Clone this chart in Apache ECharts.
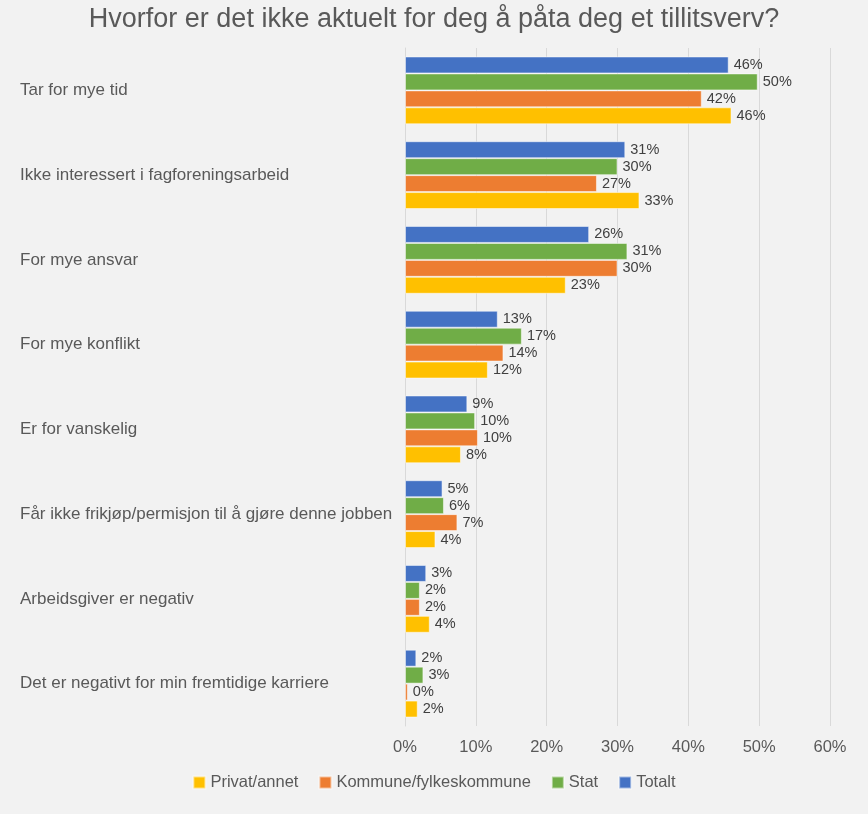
<!DOCTYPE html>
<html>
<head>
<meta charset="utf-8">
<title>Tillitsverv</title>
<script src="https://cdn.jsdelivr.net/npm/echarts@6/dist/echarts.min.js"></script>
<style>
  html, body { margin: 0; padding: 0; background: #f2f2f2; }
  #chart { width: 868px; height: 814px; }
</style>
</head>
<body>
<div id="chart"></div>
<script>
// kategorier, fra topp til bunn
var categories = [
  "Tar for mye tid",
  "Ikke interessert i fagforeningsarbeid",
  "For mye ansvar",
  "For mye konflikt",
  "Er for vanskelig",
  "Får ikke frikjøp/permisjon til å gjøre denne jobben",
  "Arbeidsgiver er negativ",
  "Det er negativt for min fremtidige karriere"
];

// verdier i prosent (lest av bildet)
var totalt  = [45.7, 31.1, 26.0, 13.1, 8.8, 5.3, 3.0, 1.6];
var stat    = [49.8, 30.0, 31.4, 16.5, 9.9, 5.5, 2.1, 2.6];
var kommune = [41.9, 27.1, 30.0, 13.9, 10.3, 7.4, 2.1, 0.4];
var privat  = [46.1, 33.1, 22.7, 11.7, 7.9, 4.3, 3.5, 1.8];

var legendOrder = ["Privat/annet", "Kommune/fylkeskommune", "Stat", "Totalt"];

var chart = echarts.init(document.getElementById("chart"));

function barSeries(name, data, color) {
  return {
    name: name,
    type: "bar",
    data: data,
    barGap: "0%",
    barCategoryGap: "20%",
    itemStyle: {
      color: color,
      borderColor: "rgba(255,255,255,0.5)",
      borderWidth: 1
    },
    label: {
      show: true,
      position: "right",
      distance: 5,
      color: "#404040",
      fontSize: 14.5,
      formatter: function (p) { return Math.round(p.value) + "%"; }
    }
  };
}

var option = {
  backgroundColor: "#f2f2f2",
  animation: false,
  textStyle: { fontFamily: "Liberation Sans, Arial, sans-serif" },
  title: {
    text: "Hvorfor er det ikke aktuelt for deg å påta deg et tillitsverv?",
    left: "center",
    top: 1,
    textStyle: {
      color: "#595959",
      fontSize: 27,
      fontWeight: "normal",
      fontFamily: "Liberation Sans, Arial, sans-serif"
    }
  },
  legend: {
    data: legendOrder,
    bottom: 18,
    left: "center",
    itemWidth: 12,
    itemHeight: 12,
    itemGap: 20,
    icon: "rect",
    textStyle: { color: "#595959", fontSize: 16.5 }
  },
  grid: {
    left: 405,
    right: 38,
    top: 48,
    bottom: 88
  },
  xAxis: {
    type: "value",
    min: 0,
    max: 60,
    interval: 10,
    axisLine: { show: false },
    axisTick: { show: false },
    splitLine: { lineStyle: { color: "#d9d9d9", width: 1 } },
    axisLabel: {
      formatter: "{value}%",
      color: "#595959",
      fontSize: 16.5,
      margin: 13
    }
  },
  yAxis: {
    type: "category",
    data: categories,
    inverse: true,
    axisLine: { show: true, lineStyle: { color: "#d9d9d9" } },
    axisTick: { show: false },
    axisLabel: {
      align: "left",
      margin: 385,
      color: "#595959",
      fontSize: 17
    }
  },
  series: [
    barSeries("Totalt", totalt, "#4472c4"),
    barSeries("Stat", stat, "#70ad47"),
    barSeries("Kommune/fylkeskommune", kommune, "#ed7d31"),
    barSeries("Privat/annet", privat, "#ffc000")
  ]
};

chart.setOption(option);
</script>
</body>
</html>
